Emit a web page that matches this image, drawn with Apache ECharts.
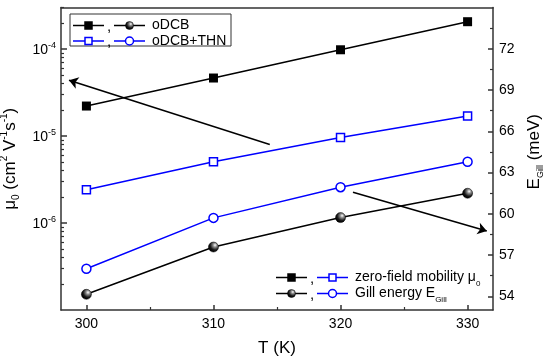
<!DOCTYPE html>
<html><head><meta charset="utf-8">
<script src="https://cdn.jsdelivr.net/npm/echarts@6/dist/echarts.min.js"></script>
<style>html,body{margin:0;padding:0;background:#fff}#c{width:550px;height:356px}</style>
</head><body><div id="c"></div>
<script>
// ---- data ----
const temps = [300, 310, 320, 330];
const muODCB = [2.21e-5, 4.64e-5, 9.8e-5, 2.06e-4];
const muTHN = [2.41e-6, 5.07e-6, 9.6e-6, 1.70e-5];
const eGillODCB = [54.14, 57.58, 59.72, 61.49];
const eGillTHN = [56.0, 59.7, 61.93, 63.78];
// ---- ticks ----
const xTicks = [300, 310, 320, 330];
const xMinorTicks = [305, 315, 325];
const muTicks = [1e-6, 1e-5, 1e-4];
const muMinorTicks = [2e-7,3e-7,4e-7,5e-7,6e-7,7e-7,8e-7,9e-7,2e-6,3e-6,4e-6,5e-6,6e-6,7e-6,8e-6,9e-6,2e-5,3e-5,4e-5,5e-5,6e-5,7e-5,8e-5,9e-5,2e-4,3e-4];
const eTicks = [54, 57, 60, 63, 66, 69, 72];
const eMinorTicks = [55.5, 58.5, 61.5, 64.5, 67.5, 70.5, 73.5];
// ---- annotation arrows (data coords) ----
const arrowMu = [[314.43, 7.97e-6], [298.63, 4.37e-5]];
const arrowE = [[320.98, 61.57], [331.51, 58.74]];

const FONT = "'Liberation Sans', Arial, sans-serif";
const BLUE = '#0000ff';
const sphere = () => new echarts.graphic.RadialGradient(0.65, 0.32, 0.65, [
  {offset: 0, color: '#ffffff'}, {offset: 0.3, color: '#8a8a8a'}, {offset: 0.7, color: '#1a1a1a'}, {offset: 1, color: '#000'}]);

const chart = echarts.init(document.getElementById('c'), null, {renderer: 'canvas'});

const supRich = {
  b: {fontSize: 14, fontFamily: FONT, color: '#000', verticalAlign: 'bottom'},
  s: {fontSize: 9, fontFamily: FONT, color: '#000', verticalAlign: 'bottom', padding: [0, 0, 7, 0]}
};

function legendRow(y, x0, items, label, labelRich) {
  const els = [];
  items.forEach((it, i) => {
    const a = x0 + i * 41, b = a + 31, cx = (a + b) / 2;
    els.push({type: 'line', shape: {x1: a, y1: y, x2: b, y2: y}, style: {stroke: it.color, lineWidth: 1.5}, z: 100});
    if (it.shape === 'rect') {
      els.push({type: 'rect', shape: {x: cx - 3.5, y: y - 3.5, width: 7, height: 7}, style: {fill: it.fill, stroke: it.color, lineWidth: 1.5}, z: 101});
    } else {
      els.push({type: 'circle', shape: {cx: cx, cy: y, r: 4}, style: {fill: it.fill, stroke: it.color, lineWidth: it.sphere ? 0.5 : 1.5}, z: 101});
    }
  });
  els.push({type: 'text', x: x0 + 34, y: y + 1, style: {text: ',', font: '15px ' + FONT, fill: '#000', verticalAlign: 'middle'}, z: 101});
  els.push({type: 'text', x: x0 + 79, y: y, style: {text: label, rich: labelRich, font: '14px ' + FONT, fill: '#000', verticalAlign: 'middle'}, z: 101});
  return els;
}

const subRich = {
  t: {fontSize: 14, fontFamily: FONT, color: '#000', verticalAlign: 'bottom'},
  u: {fontSize: 8, fontFamily: FONT, color: '#000', verticalAlign: 'bottom', padding: [0, 0, -3, 0]}
};

const graphics = [].concat(
  [{type: 'rect', shape: {x: 70, y: 14, width: 161, height: 32}, style: {fill: '#fff', stroke: '#333', lineWidth: 1}, z: 99}],
  legendRow(25.5, 73, [{color: '#000', shape: 'rect', fill: '#000'}, {color: '#000', shape: 'circle', fill: sphere(), sphere: true}], '{t|oDCB}', subRich),
  legendRow(41, 73, [{color: BLUE, shape: 'rect', fill: '#fff'}, {color: BLUE, shape: 'circle', fill: '#fff'}], '{t|oDCB+THN}', subRich),
  legendRow(277.5, 276, [{color: '#000', shape: 'rect', fill: '#000'}, {color: BLUE, shape: 'rect', fill: '#fff'}], '{t|zero-field mobility μ}{u|0}', subRich),
  legendRow(293.5, 276, [{color: '#000', shape: 'circle', fill: sphere(), sphere: true}, {color: BLUE, shape: 'circle', fill: '#fff'}], '{t|Gill energy E}{u|Gill}', subRich)
);

const axisLine = {show: true, lineStyle: {color: '#333', width: 1.5}};
const arrowMarkLine = (pts) => ({
  silent: true, symbol: ['none', 'arrow'], symbolSize: 9, symbolKeepAspect: true,
  label: {show: false}, emphasis: {disabled: true},
  lineStyle: {color: '#000', width: 1.5, type: 'solid'},
  itemStyle: {color: '#000'},
  data: [[{coord: pts[0], symbol: 'none'}, {coord: pts[1], symbol: 'arrow', symbolSize: 9}]]
});

const option = {
  animation: false,
  backgroundColor: '#fff',
  grid: {left: 61, right: 57, top: 7.5, bottom: 46, containLabel: false, outerBoundsMode: 'none'},
  xAxis: [
    {type: 'value', min: 298, max: 332, position: 'bottom',
      axisLine: axisLine, splitLine: {show: false},
      axisTick: {show: true, inside: true, length: 5, customValues: xTicks, lineStyle: {color: '#333', width: 1.5}},
      axisLabel: {customValues: xTicks, margin: 7, fontSize: 14, fontFamily: FONT, color: '#000'},
      name: 'T (K)', nameLocation: 'middle', nameGap: 30, nameTextStyle: {fontSize: 17, fontFamily: FONT, color: '#000'}},
    {type: 'value', min: 298, max: 332, position: 'top', axisLine: axisLine, axisTick: {show: false}, axisLabel: {show: false}, splitLine: {show: false}},
    {type: 'value', min: 298, max: 332, position: 'bottom', axisLine: {show: false}, splitLine: {show: false}, axisLabel: {show: false},
      axisTick: {show: true, inside: true, length: 3, customValues: xMinorTicks, lineStyle: {color: '#333', width: 1.2}}}
  ],
  yAxis: [
    {type: 'log', min: 1e-7, max: 3e-4, position: 'left', axisLine: axisLine, splitLine: {show: false},
      axisTick: {show: true, inside: true, length: 6, customValues: muTicks, lineStyle: {color: '#333', width: 1.5}},
      axisLabel: {customValues: muTicks, margin: 5, rich: supRich,
        formatter: v => '{b|10}{s|' + Math.round(Math.log10(v)) + '}'},
      name: '{a|μ}{d|0}{a| (cm}{p|2}{a| V}{p|-1}{a|s}{p|-1}{a|)}', nameLocation: 'middle', nameGap: 29, nameRotate: 90,
      nameTextStyle: {rich: {
        a: {fontSize: 17, fontFamily: FONT, color: '#000', verticalAlign: 'bottom'},
        p: {fontSize: 10, fontFamily: FONT, color: '#000', verticalAlign: 'bottom', padding: [0, 0, 9, 0]},
        d: {fontSize: 10, fontFamily: FONT, color: '#000', verticalAlign: 'bottom', padding: [0, 0, -3, 0]}
      }}},
    {type: 'value', min: 53, max: 75, position: 'right', axisLine: axisLine, splitLine: {show: false},
      axisTick: {show: true, inside: true, length: 5, customValues: eTicks, lineStyle: {color: '#333', width: 1.5}},
      axisLabel: {customValues: eTicks, margin: 6, fontSize: 14, fontFamily: FONT, color: '#000'},
      name: '{a|E}{d|Gill}{a| (meV)}', nameLocation: 'middle', nameGap: 29, nameRotate: 90,
      nameTextStyle: {padding: [0, 0, 0, 14], rich: {
        a: {fontSize: 17, fontFamily: FONT, color: '#000', verticalAlign: 'bottom'},
        d: {fontSize: 9, fontFamily: FONT, color: '#000', verticalAlign: 'bottom', padding: [0, 0, -3, 0]}
      }}},
    {type: 'log', min: 1e-7, max: 3e-4, position: 'left', axisLine: {show: false}, splitLine: {show: false}, axisLabel: {show: false},
      axisTick: {show: true, inside: true, length: 3, customValues: muMinorTicks, lineStyle: {color: '#333', width: 1.2}}},
    {type: 'value', min: 53, max: 75, position: 'right', axisLine: {show: false}, splitLine: {show: false}, axisLabel: {show: false},
      axisTick: {show: true, inside: true, length: 3, customValues: eMinorTicks, lineStyle: {color: '#333', width: 1.2}}}
  ],
  series: [
    {name: 'mu oDCB', type: 'line', xAxisIndex: 0, yAxisIndex: 0, data: temps.map((t, i) => [t, muODCB[i]]),
      symbol: 'rect', symbolSize: 9, lineStyle: {color: '#000', width: 1.5}, itemStyle: {color: '#000'}, z: 5,
      markLine: arrowMarkLine(arrowMu)},
    {name: 'mu THN', type: 'line', xAxisIndex: 0, yAxisIndex: 0, data: temps.map((t, i) => [t, muTHN[i]]),
      symbol: 'rect', symbolSize: 8, showAllSymbol: true, lineStyle: {color: BLUE, width: 1.5},
      itemStyle: {color: '#fff', borderColor: BLUE, borderWidth: 1.5}, z: 5},
    {name: 'E oDCB', type: 'line', xAxisIndex: 0, yAxisIndex: 1, data: temps.map((t, i) => [t, eGillODCB[i]]),
      symbol: 'circle', symbolSize: 10, lineStyle: {color: '#000', width: 1.5},
      itemStyle: {color: sphere(), borderColor: '#000', borderWidth: 0.5}, z: 5,
      markLine: arrowMarkLine(arrowE)},
    {name: 'E THN', type: 'line', xAxisIndex: 0, yAxisIndex: 1, data: temps.map((t, i) => [t, eGillTHN[i]]),
      symbol: 'circle', symbolSize: 9, lineStyle: {color: BLUE, width: 1.5},
      itemStyle: {color: '#fff', borderColor: BLUE, borderWidth: 1.5}, z: 5}
  ],
  graphic: graphics
};
chart.setOption(option);
</script>
</body></html>
